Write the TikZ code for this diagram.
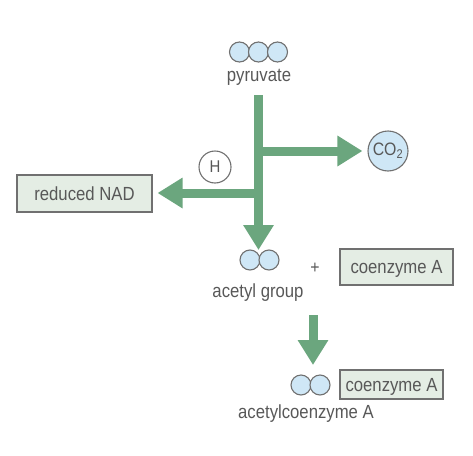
\documentclass[tikz,border=0pt]{standalone}
\usepackage{fontspec}
\setmainfont[FakeStretch=0.88]{Liberation Sans}
\usetikzlibrary{arrows.meta}
\definecolor{arrowgreen}{HTML}{6BA67E}
\definecolor{boxfill}{HTML}{E4EDE4}
\definecolor{boxline}{HTML}{707070}
\definecolor{ballfill}{HTML}{CFE7F6}
\definecolor{txt}{HTML}{585858}
\begin{document}
\begin{tikzpicture}[x=1pt,y=-1pt,
  lbl/.style={text=txt,font=\fontsize{19}{21}\selectfont,inner sep=0pt,anchor=base},
  box/.style={draw=boxline,fill=boxfill,line width=1.1pt,text=txt,
    font=\fontsize{19}{21}\selectfont,inner sep=0pt,text height=13.6pt,text depth=0pt},
  ball/.style={circle,draw=boxline,fill=ballfill,line width=1.1pt,minimum size=20pt,inner sep=0pt},
  bigarrow/.style={draw=arrowgreen,line width=9pt,-{Triangle[length=25pt,width=29pt]}}]
\useasboundingbox (0,0) rectangle (473,455);

% pyruvate
\node[ball] (p1) at (239.5,52) {};
\node[ball] (p2) at (258.5,52) {};
\node[ball] (p3) at (277.5,52) {};
\node[lbl] (pyr) at (259,81) {pyruvate};

% CO2 and H
\node[ball,minimum size=40pt,text=txt,font=\fontsize{18}{20}\selectfont] (co2) at (388,151) {CO\textsubscript{2}};
\node[circle,draw=boxline,fill=white,line width=1.1pt,minimum size=32pt,inner sep=0pt,
  text=txt,font=\fontsize{17}{19}\selectfont] (h) at (215,167) {H};

% reduced NAD
\node[box,minimum width=135pt,minimum height=37pt] (nad) at (84.5,193.5) {reduced NAD};

% acetyl group
\node[ball] (a1) at (250,260) {};
\node[ball] (a2) at (269,260) {};
\node[lbl] (acg) at (258,297) {acetyl group};
\node[text=txt,font=\fontsize{18}{20}\selectfont,inner sep=0pt] (plus) at (315,268) {+};
\node[box,minimum width=113pt,minimum height=36pt] (coa1) at (396.5,267) {coenzyme A};

% acetylcoenzyme A
\node[ball] (c1) at (301,385) {};
\node[ball] (c2) at (320,385) {};
\node[box,minimum width=103pt,minimum height=29pt] (coa2) at (391.5,384.5) {coenzyme A};
\node[lbl] (acoa) at (306,418) {acetylcoenzyme A};

% arrows
\coordinate (s0) at (258.5,95);
\coordinate (s1) at (258.5,250);
\coordinate (bR) at (258.5,151);
\coordinate (bL) at (258.5,193);
\draw[bigarrow] (s0) -- (s1);
\draw[bigarrow] (bR) -- ([xshift=-5pt]co2.west);
\draw[bigarrow] (bL) -- ([xshift=5pt]nad.east |- bL);
\coordinate (t0) at (313,315);
\draw[bigarrow] (t0) -- (313,365);
\end{tikzpicture}
\end{document}
